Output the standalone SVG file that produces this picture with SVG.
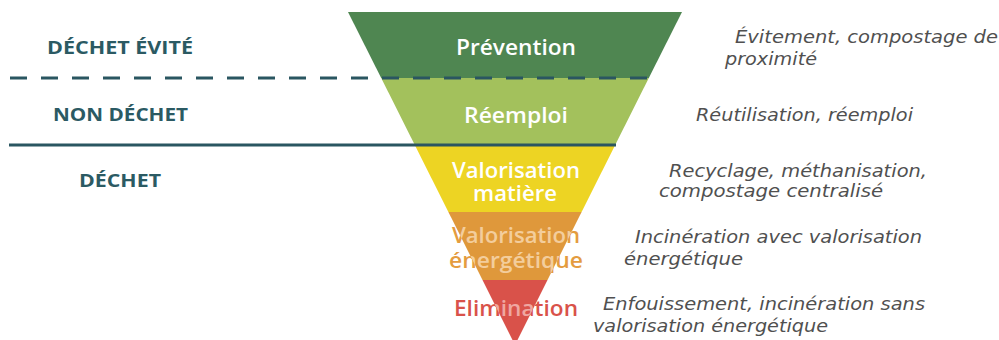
<svg xmlns="http://www.w3.org/2000/svg" width="999" height="340" viewBox="0 0 999 340">
<style>
.lvl{font-family:"Open Sans","DejaVu Sans",sans-serif;font-weight:600;font-size:21px;text-anchor:middle}
.cat{font-family:"Open Sans","DejaVu Sans",sans-serif;font-weight:700;font-size:18.5px;fill:#2B5A63;text-anchor:middle}
.desc{font-family:"DejaVu Sans","Open Sans",sans-serif;font-style:italic;font-size:17.5px;fill:#505050}
.w{fill:#ffffff}
.o{fill:#E49C3F}
.ol{fill:#F3CD9C}
.r{fill:#D9524A}
.rl{fill:#EFA7A1}
</style>
<defs>
<clipPath id="clipOrange"><polygon points="448.4,212 581.6,212 547.5,280 482.5,280"/></clipPath>
<clipPath id="clipRed"><polygon points="482.5,280 547.5,280 515,345"/></clipPath>
<text id="tVal2" class="lvl" x="516" y="243" textLength="128" lengthAdjust="spacingAndGlyphs">Valorisation</text>
<text id="tEner" class="lvl" x="516" y="268" textLength="134" lengthAdjust="spacingAndGlyphs">énergétique</text>
<text id="tElim" class="lvl" x="516" y="316" textLength="124" lengthAdjust="spacingAndGlyphs">Elimination</text>
</defs>
<rect width="999" height="340" fill="#ffffff"/>
<g id="band-prevention">
<polygon points="348,12 682,12 648.8,78 381.2,78" fill="#4F8651"/>
<text class="lvl w" x="516" y="55" textLength="120" lengthAdjust="spacingAndGlyphs">Prévention</text>
</g>
<g id="band-reemploi">
<polygon points="381.2,78 648.8,78 615.2,145 414.8,145" fill="#A3C15C"/>
<text class="lvl w" x="516" y="123" textLength="104" lengthAdjust="spacingAndGlyphs">Réemploi</text>
</g>
<g id="band-matiere">
<polygon points="414.8,145 615.2,145 581.6,212 448.4,212" fill="#EDD423"/>
<text class="lvl w" x="516" y="178" textLength="128" lengthAdjust="spacingAndGlyphs">Valorisation</text>
<text class="lvl w" x="515" y="201" textLength="84" lengthAdjust="spacingAndGlyphs">matière</text>
</g>
<g id="band-energetique">
<polygon points="448.4,212 581.6,212 547.5,280 482.5,280" fill="#DF983B"/>
<use href="#tVal2" class="o"/>
<use href="#tEner" class="o"/>
<g clip-path="url(#clipOrange)">
<use href="#tVal2" class="ol"/>
<use href="#tEner" class="ol"/>
</g>
</g>
<g id="band-elimination">
<polygon points="482.5,280 547.5,280 515,345" fill="#D9524A"/>
<use href="#tElim" class="r"/>
<g clip-path="url(#clipRed)">
<use href="#tElim" class="rl"/>
</g>
</g>
<g id="connectors">
<line x1="10" y1="78" x2="650" y2="78" stroke="#2A5661" stroke-width="3" stroke-dasharray="17 14"/>
<line x1="9" y1="145" x2="616" y2="145" stroke="#2A5661" stroke-width="3"/>
</g>
<g id="categories">
<text class="cat" x="120" y="54" textLength="146" lengthAdjust="spacingAndGlyphs">DÉCHET ÉVITÉ</text>
<text class="cat" x="120.5" y="121" textLength="135" lengthAdjust="spacingAndGlyphs">NON DÉCHET</text>
<text class="cat" x="120" y="187" textLength="82" lengthAdjust="spacingAndGlyphs">DÉCHET</text>
</g>
<g id="descriptions">
<text class="desc" x="735" y="43" textLength="263" lengthAdjust="spacingAndGlyphs">Évitement, compostage de</text>
<text class="desc" x="725" y="65" textLength="92" lengthAdjust="spacingAndGlyphs">proximité</text>
<text class="desc" x="696" y="121" textLength="217" lengthAdjust="spacingAndGlyphs">Réutilisation, réemploi</text>
<text class="desc" x="669" y="177" textLength="258" lengthAdjust="spacingAndGlyphs">Recyclage, méthanisation,</text>
<text class="desc" x="659" y="197" textLength="224" lengthAdjust="spacingAndGlyphs">compostage centralisé</text>
<text class="desc" x="635" y="243" textLength="287" lengthAdjust="spacingAndGlyphs">Incinération avec valorisation</text>
<text class="desc" x="624" y="265" textLength="119" lengthAdjust="spacingAndGlyphs">énergétique</text>
<text class="desc" x="603" y="310" textLength="322" lengthAdjust="spacingAndGlyphs">Enfouissement, incinération sans</text>
<text class="desc" x="593" y="332" textLength="235" lengthAdjust="spacingAndGlyphs">valorisation énergétique</text>
</g>
</svg>
